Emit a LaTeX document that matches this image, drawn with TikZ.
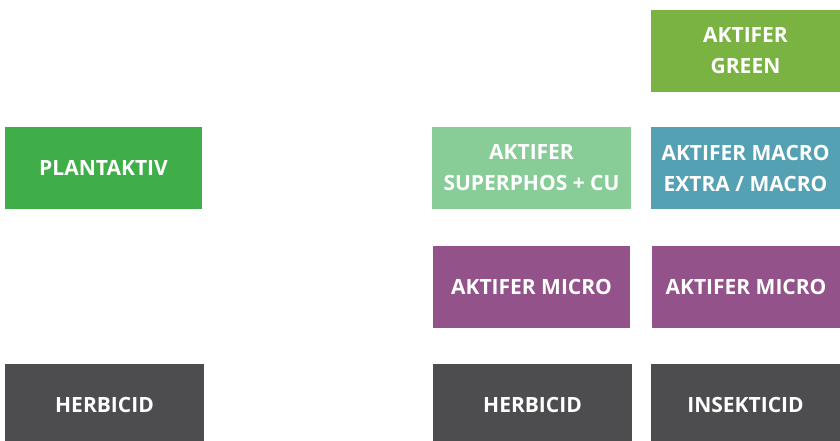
\documentclass[tikz,border=0pt]{standalone}
\usepackage{fontspec}
\setmainfont{Open Sans}
\definecolor{cgreen}{HTML}{7AB342}
\definecolor{cplant}{HTML}{3FAE49}
\definecolor{cphos}{HTML}{88CD98}
\definecolor{cmacro}{HTML}{55A1B4}
\definecolor{cmicro}{HTML}{93528A}
\definecolor{cgrey}{HTML}{4D4D4F}
\begin{document}
\begin{tikzpicture}
  [x=1pt,y=-1pt,every node/.style={rectangle,inner sep=0pt,minimum height=82pt,
   text=white,align=center,font=\fontsize{21}{31}\selectfont\bfseries}]
  \useasboundingbox (0,0) rectangle (840,441);
  \node (green) at (745.5,51) [fill=cgreen,minimum width=189pt] {AKTIFER\\GREEN};
  \node (plant) at (103.5,168) [fill=cplant,minimum width=197pt] {PLANTAKTIV};
  \node (phos)  at (531.5,168) [fill=cphos,minimum width=199pt] {AKTIFER\\SUPERPHOS + CU};
  \node (macro) at (745.5,168) [fill=cmacro,minimum width=189pt] {AKTIFER MACRO\\EXTRA / MACRO};
  \node (mic1)  at (531.5,287) [fill=cmicro,minimum width=197pt] {AKTIFER MICRO};
  \node (mic2)  at (746,287)   [fill=cmicro,minimum width=188pt] {AKTIFER MICRO};
  \node (herb1) at (104.5,405) [fill=cgrey,minimum width=199pt] {HERBICID};
  \node (herb2) at (532.5,405) [fill=cgrey,minimum width=199pt] {HERBICID};
  \node (ins)   at (745.5,405) [fill=cgrey,minimum width=189pt] {INSEKTICID};

\end{tikzpicture}
\end{document}
